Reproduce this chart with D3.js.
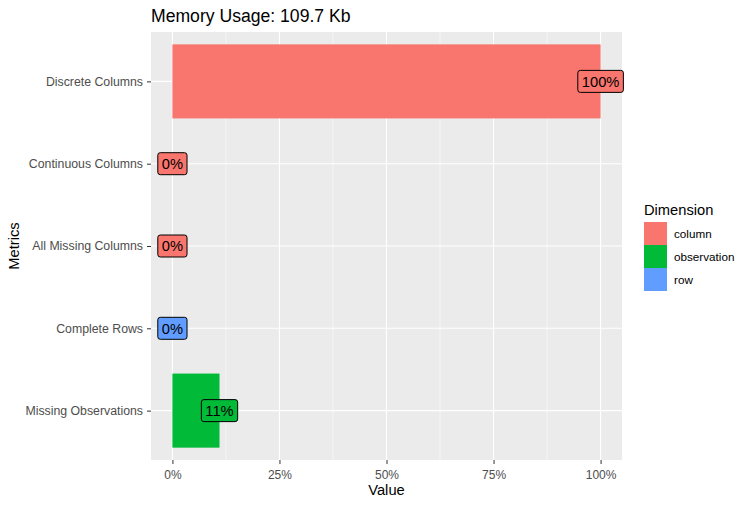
<!DOCTYPE html>
<html>
<head>
<script src="https://d3js.org/d3.v7.min.js"></script>
<style>
  body { margin: 0; background: #fff; }
  svg { font-family: "Liberation Sans", Arial, sans-serif; }
</style>
</head>
<body>
<svg id="chart" width="753" height="505"></svg>
<script>
// data
var metrics = ["Discrete Columns", "Continuous Columns", "All Missing Columns", "Complete Rows", "Missing Observations"];
var values = [1, 0, 0, 0, 0.11];
var dimension = ["column", "column", "column", "row", "observation"];
var dimNames = ["column", "observation", "row"];
var dimColors = ["#F8766D", "#00BA38", "#619CFF"];
var xTicks = [0, 0.25, 0.5, 0.75, 1];
var xMinor = [0.125, 0.375, 0.625, 0.875];

var rows = metrics.map((m, i) => ({metric: m, value: values[i], dim: dimension[i]}));

var svg = d3.select("#chart");
var pLeft = 151, pRight = 622, pTop = 32, pBottom = 460;

var x = d3.scaleLinear([-0.05, 1.05], [pLeft, pRight]);
// ggplot discrete axis: centres at 1..n, expanded by 0.6 on each side
var y = d3.scalePoint(metrics, [pTop, pBottom]).padding(0.6);
var barH = y.step() * 0.9;
var color = d3.scaleOrdinal(dimNames, dimColors);
var pct = d3.format(".0%");

// panel
svg.append("rect").attr("x", pLeft).attr("y", pTop)
   .attr("width", pRight - pLeft).attr("height", pBottom - pTop).attr("fill", "#EBEBEB");

// grid
svg.selectAll(".minor").data(xMinor).join("line")
   .attr("x1", d => x(d)).attr("x2", d => x(d)).attr("y1", pTop).attr("y2", pBottom)
   .attr("stroke", "#fff").attr("stroke-width", 0.55);
svg.selectAll(".major").data(xTicks).join("line")
   .attr("x1", d => x(d)).attr("x2", d => x(d)).attr("y1", pTop).attr("y2", pBottom)
   .attr("stroke", "#fff").attr("stroke-width", 1.1);
svg.selectAll(".hmajor").data(metrics).join("line")
   .attr("x1", pLeft).attr("x2", pRight)
   .attr("y1", d => y(d)).attr("y2", d => y(d))
   .attr("stroke", "#fff").attr("stroke-width", 1.1);

// bars
svg.selectAll(".bar").data(rows).join("rect")
   .attr("x", x(0)).attr("y", d => y(d.metric) - barH / 2)
   .attr("width", d => x(d.value) - x(0)).attr("height", barH)
   .attr("fill", d => color(d.dim));

// labels
var lab = svg.selectAll(".lab").data(rows).join("g")
   .attr("transform", d => "translate(" + x(d.value) + "," + y(d.metric) + ")");
lab.append("text")
   .attr("text-anchor", "middle").attr("dy", "0.36em")
   .attr("font-size", 14.7).attr("fill", "#000")
   .text(d => pct(d.value));
lab.each(function() {
  var g = d3.select(this);
  var b = g.select("text").node().getBBox();
  g.insert("rect", "text")
   .attr("x", b.x - 4).attr("y", -11)
   .attr("width", b.width + 8).attr("height", 22)
   .attr("rx", 2.5).attr("ry", 2.5)
   .attr("fill", d => color(d.dim)).attr("stroke", "#000").attr("stroke-width", 1);
});

// x axis
var xa = svg.append("g").attr("transform", "translate(0," + pBottom + ")")
   .call(d3.axisBottom(x).tickValues(xTicks).tickFormat(pct).tickSize(4).tickPadding(6));
xa.select(".domain").remove();
xa.selectAll("line").attr("stroke", "#333").attr("stroke-width", 1);
xa.selectAll("text").attr("font-size", 12).attr("fill", "#4D4D4D")
   .attr("font-family", "Liberation Sans, Arial, sans-serif");

// y axis
var ya = svg.append("g").attr("transform", "translate(" + pLeft + ",0)")
   .call(d3.axisLeft(y).tickSize(4).tickPadding(4));
ya.select(".domain").remove();
ya.selectAll("line").attr("stroke", "#333").attr("stroke-width", 1);
ya.selectAll("text").attr("font-size", 12.3).attr("fill", "#4D4D4D")
   .attr("font-family", "Liberation Sans, Arial, sans-serif");

// titles
svg.append("text").attr("x", pLeft).attr("y", 22)
   .attr("font-size", 17.6).attr("fill", "#000").text("Memory Usage: 109.7 Kb");
svg.append("text").attr("x", (pLeft + pRight) / 2).attr("y", 495)
   .attr("text-anchor", "middle").attr("font-size", 14.7).attr("fill", "#000").text("Value");
svg.append("text").attr("transform", "translate(19," + ((pTop + pBottom) / 2) + ") rotate(-90)")
   .attr("text-anchor", "middle").attr("font-size", 14.7).attr("fill", "#000").text("Metrics");

// legend
var lg = svg.append("g").attr("transform", "translate(644,222)");
lg.append("text").attr("x", 0).attr("y", -7).attr("font-size", 14.7).attr("fill", "#000").text("Dimension");
var key = lg.selectAll(".key").data(dimNames).join("g")
   .attr("transform", (d, i) => "translate(0," + i * 23 + ")");
key.append("rect").attr("width", 23).attr("height", 23).attr("fill", d => color(d));
key.append("text").attr("x", 30).attr("y", 11.5).attr("dy", "0.35em")
   .attr("font-size", 11.7).attr("fill", "#000").text(d => d);
</script>
</body>
</html>
